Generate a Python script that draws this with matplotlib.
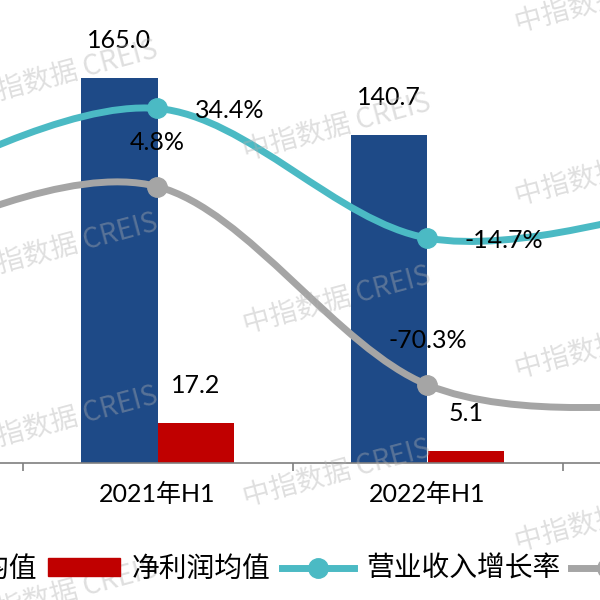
import numpy as np
import matplotlib
matplotlib.use("Agg")
import matplotlib.pyplot as plt
from matplotlib.path import Path
from matplotlib.patches import PathPatch, Patch
from matplotlib.lines import Line2D
from matplotlib.font_manager import FontProperties

# data (2020H1 / 2023H1 lie outside the visible crop)
categories = ["2020年H1", "2021年H1", "2022年H1", "2023年H1"]
revenue_avg = [np.nan, 165.0, 140.7, np.nan]
profit_avg = [np.nan, 17.2, 5.1, np.nan]
revenue_growth = [2.8, 34.4, -14.7, -1.5]
profit_growth = [-16.8, 4.8, -70.3, -78.1]

BLUE = "#1e4a87"
RED = "#c00000"
TEAL = "#4bbac4"
GREY = "#a5a5a5"
LATIN = ["Lato", "Noto Sans CJK SC"]
CJK = ["Noto Sans CJK SC", "DejaVu Sans"]


def smooth_path(xs, ys):
    # excel-style smoothed line: cubic bezier through every point
    pts = np.column_stack([xs, ys]).astype(float)
    n = len(pts)
    verts = [pts[0]]
    codes = [Path.MOVETO]
    for i in range(n - 1):
        p_prev = pts[i - 1] if i > 0 else pts[i]
        p0, p1 = pts[i], pts[i + 1]
        p_next = pts[i + 2] if i + 2 < n else pts[i + 1]
        verts += [p0 + (p1 - p_prev) / 6, p1 - (p_next - p0) / 6, p1]
        codes += [Path.CURVE4] * 3
    return Path(verts, codes)


fig = plt.figure(figsize=(6, 6), dpi=100)
# the reference is a crop of a wider chart, so the axes run past the figure edges
ax = fig.add_axes([-247.5 / 600, 137 / 600, 1080 / 600, 466.7 / 600])
ax2 = ax.twinx()

x = np.arange(len(categories))
w = 0.285
ax.bar(x - w / 2, revenue_avg, w, color=BLUE)
ax.bar(x + w / 2, profit_avg, w, color=RED)
ax.set_xlim(-0.5, len(categories) - 0.5)
ax.set_ylim(0, 200)
ax2.set_ylim(-99.9, 76.9)

for xi, v in zip(x - w / 2, revenue_avg):
    if not np.isnan(v):
        ax.annotate(f"{v:.1f}", (xi, v), xytext=(0, 30), textcoords="offset pixels",
                    ha="center", va="baseline", fontsize=18, family=LATIN)
for xi, v in zip(x + w / 2, profit_avg):
    if not np.isnan(v):
        ax.annotate(f"{v:.1f}", (xi, v), xytext=(0, 30), textcoords="offset pixels",
                    ha="center", va="baseline", fontsize=18, family=LATIN)

for series, color in [(profit_growth, GREY), (revenue_growth, TEAL)]:
    ax2.add_patch(PathPatch(smooth_path(x, series), fill=False, edgecolor=color,
                            lw=5, capstyle="round", joinstyle="round"))
    ax2.plot(x, series, "o", color=color, ms=14)

for xi, v in zip(x, revenue_growth):
    ax2.annotate(f"{v:.1f}%", (xi, v), xytext=(37, -10), textcoords="offset pixels",
                 ha="left", va="baseline", fontsize=18, family=LATIN)
for xi, v in zip(x, profit_growth):
    ax2.annotate(f"{v:.1f}%", (xi, v), xytext=(0, 37), textcoords="offset pixels",
                 ha="center", va="baseline", fontsize=18, family=LATIN)

# category labels at centres, tick marks on the boundaries
ax.set_xticks(x)
ax.set_xticklabels(categories, fontsize=18, family=LATIN)
ax.set_xticks(np.arange(len(categories) + 1) - 0.5, minor=True)
ax.tick_params(axis="x", which="major", length=0, pad=14)
ax.tick_params(axis="x", which="minor", length=6, width=1.2, color="#7f7f7f")
ax.set_yticks([])
ax2.set_yticks([])
for a in (ax, ax2):
    for side in ("top", "left", "right"):
        a.spines[side].set_visible(False)
ax2.spines["bottom"].set_visible(False)
ax.spines["bottom"].set_color("#7f7f7f")
ax.spines["bottom"].set_linewidth(1.2)

handles = [
    Patch(color=BLUE),
    Patch(color=RED),
    Line2D([], [], color=TEAL, lw=5, marker="o", ms=14),
    Line2D([], [], color=GREY, lw=5, marker="o", ms=14),
]
labels = ["营业收入均值", "净利润均值", "营业收入增长率", "净利润增长率"]
fig.legend(handles, labels, loc="center", bbox_to_anchor=(304 / 600, 31 / 600), ncol=4,
           frameon=False, prop=FontProperties(family=CJK, size=20), numpoints=1,
           handlelength=2.6, handletextpad=0.43, columnspacing=0.4, handleheight=0.62)

# watermark
for x0, y0 in [(-28, 107), (245, 160), (517, 32)]:
    for k in range(-1, 4):
        y = y0 + 173 * k
        fig.text(x0 / 600, 1 - y / 600, "中指数据 CREIS", rotation=15, rotation_mode="anchor",
                 ha="left", va="baseline", fontsize=20, family=CJK, color="#b0b0b0", alpha=0.4)

fig.savefig("out.png", dpi=100)
